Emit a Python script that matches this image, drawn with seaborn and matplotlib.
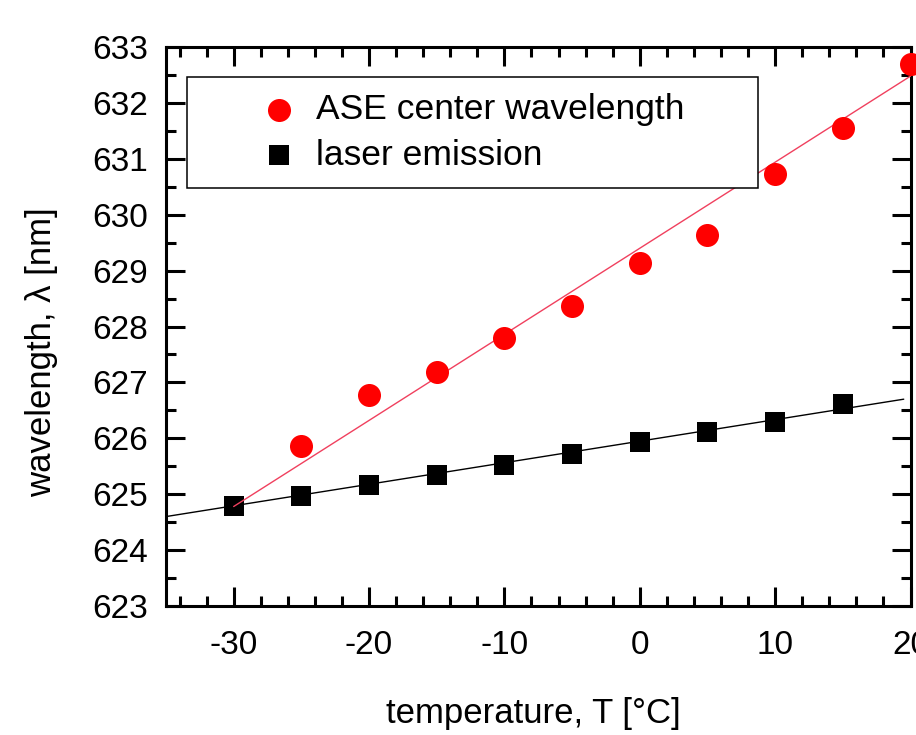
import numpy as np
import pandas as pd
import matplotlib
matplotlib.use('Agg')
import matplotlib.pyplot as plt
from matplotlib.ticker import MultipleLocator
import seaborn as sns

# ASE centre wavelength vs temperature
temp_ase = [-25, -20, -15, -10, -5, 0, 5, 10, 15, 20]
ase_wl = [625.87, 626.77, 627.18, 627.79, 628.37, 629.14, 629.64, 630.72, 631.55, 632.69]

# laser emission
temp_laser = [-30, -25, -20, -15, -10, -5, 0, 5, 10, 15]
laser_wl = [624.79, 624.97, 625.16, 625.35, 625.53, 625.72, 625.94, 626.11, 626.30, 626.61]

# linear fit lines (end points as drawn)
ase_fit_t = [-30, 20]
ase_fit_wl = [624.78, 632.48]
laser_fit_t = [-35, 19.5]
laser_fit_wl = [624.60, 626.70]

sns.set_style('ticks')
plt.rcParams['font.family'] = ['Liberation Sans', 'DejaVu Sans']
plt.rcParams['axes.unicode_minus'] = False
plt.rcParams['text.color'] = 'black'
plt.rcParams['axes.labelcolor'] = 'black'

fig = plt.figure(figsize=(9.16, 7.35), dpi=100)
ax = fig.add_axes([0.1812, 0.1755, 0.8128, 0.7605])

# fit lines
sns.lineplot(x=laser_fit_t, y=laser_fit_wl, color='black', linewidth=1.0, ax=ax, zorder=2)
sns.lineplot(x=ase_fit_t, y=ase_fit_wl, color='#f0405e', linewidth=1.0, ax=ax, zorder=4)

# data points
sns.scatterplot(x=temp_laser, y=laser_wl, marker='s', s=210, color='black',
                linewidth=0, ax=ax, zorder=3, clip_on=False, label='laser emission')
h_laser = ax.collections[-1]
sns.scatterplot(x=temp_ase, y=ase_wl, marker='o', s=275, color='#ff0000',
                linewidth=0, ax=ax, zorder=5, clip_on=False, label='ASE center wavelength')
h_ase = ax.collections[-1]

ax.set_xlim(-35, 20)
ax.set_ylim(623, 633)
ax.xaxis.set_major_locator(MultipleLocator(10))
ax.xaxis.set_minor_locator(MultipleLocator(2))
ax.yaxis.set_major_locator(MultipleLocator(1))
ax.yaxis.set_minor_locator(MultipleLocator(0.5))

ax.tick_params(which='both', direction='in', top=True, right=True,
               width=2.2, labelsize=24, colors='black')
ax.tick_params(axis='x', which='both', pad=17)
ax.tick_params(axis='y', which='both', pad=13)
ax.tick_params(which='major', length=14)
ax.tick_params(which='minor', length=7)
for sp in ax.spines.values():
    sp.set_linewidth(2.2)
    sp.set_color('black')

ax.set_xlabel('temperature, T [°C]', fontsize=25)
ax.set_ylabel('wavelength, λ [nm]', fontsize=25)
ax.xaxis.set_label_coords(0.493, -0.162)
ax.yaxis.set_label_coords(-0.145, 0.454)

leg = ax.legend(handles=[h_ase, h_laser],
                labels=['ASE center wavelength', 'laser emission'],
                loc='upper left', bbox_to_anchor=(0.0282, 0.7463, 0.7666, 0.2),
                mode='expand', fontsize=25.5, frameon=True, fancybox=False,
                edgecolor='black', framealpha=1, borderpad=0.45,
                labelspacing=0.36, handlelength=4.3, handletextpad=-1.1,
                borderaxespad=0, scatterpoints=1)
leg.get_frame().set_linewidth(1.1)

fig.savefig('out.png', dpi=100)
